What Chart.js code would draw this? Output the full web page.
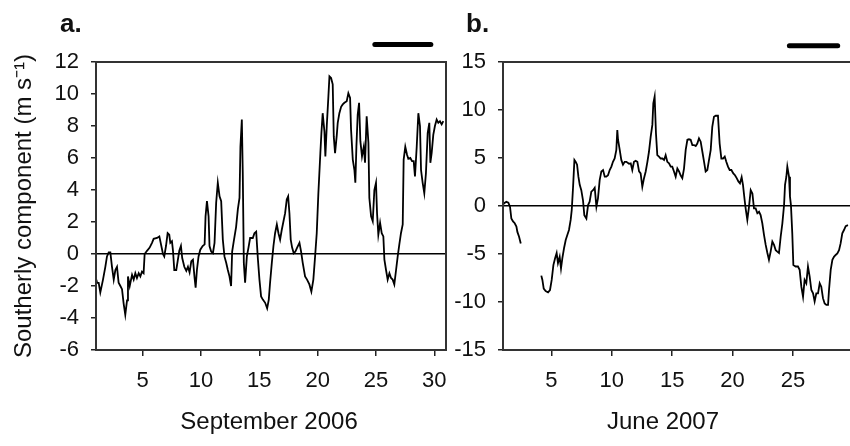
<!DOCTYPE html>
<html>
<head>
<meta charset="utf-8">
<script src="https://cdn.jsdelivr.net/npm/chart.js@4.4.1/dist/chart.umd.min.js"></script>
<style>
  html, body { margin: 0; padding: 0; background: #fff; }
  #wrap { position: relative; width: 850px; height: 446px; overflow: hidden; }
  canvas { position: absolute; top: 0; }
  #panelA { left: 0; }
  #panelB { left: 455px; }
</style>
</head>
<body>
<div id="wrap">
  <canvas id="panelA" width="460" height="446"></canvas>
  <canvas id="panelB" width="480" height="446"></canvas>
</div>
<script>
// a. September 2006 - southerly wind component (m/s)
const sepDays = [1.03, 1.09, 1.23, 1.37, 1.6, 1.8, 1.94, 2.09, 2.23, 2.37, 2.52, 2.66, 2.8, 2.94, 3.09, 3.23, 3.37, 3.51, 3.66, 3.74,
  3.89, 4.09, 4.23, 4.37, 4.51, 4.66, 4.8, 4.94, 5.08, 5.17, 5.37, 5.6, 5.8, 5.94, 6.23, 6.43, 6.6, 6.74, 6.85, 7.0,
  7.14, 7.28, 7.37, 7.51, 7.6, 7.71, 7.88, 8.0, 8.14, 8.28, 8.39, 8.57, 8.74, 8.88, 9.02, 9.17, 9.31, 9.45, 9.54, 9.65,
  9.79, 9.94, 10.14, 10.31, 10.39, 10.51, 10.65, 10.73, 10.87, 11.02, 11.16, 11.3, 11.44, 11.59, 11.73, 11.87, 12.01, 12.16, 12.3, 12.44,
  12.58, 12.67, 12.81, 13.01, 13.16, 13.3, 13.38, 13.5, 13.58, 13.67, 13.78, 13.93, 14.07, 14.21, 14.44, 14.58, 14.73, 14.87, 15.01, 15.15,
  15.3, 15.5, 15.67, 15.81, 15.92, 16.07, 16.21, 16.35, 16.5, 16.64, 16.78, 16.92, 17.07, 17.21, 17.35, 17.47, 17.58, 17.69, 17.81, 17.95,
  18.09, 18.24, 18.44, 18.58, 18.72, 18.92, 19.09, 19.29, 19.46, 19.63, 19.78, 19.92, 20.06, 20.23, 20.32, 20.43, 20.58, 20.66, 20.78, 20.92,
  21.01, 21.15, 21.29, 21.38, 21.49, 21.64, 21.72, 21.86, 22.01, 22.15, 22.29, 22.49, 22.63, 22.78, 22.86, 23.01, 23.15, 23.23, 23.32, 23.43,
  23.55, 23.66, 23.8, 23.95, 24.06, 24.2, 24.35, 24.43, 24.58, 24.72, 24.86, 25.0, 25.09, 25.2, 25.35, 25.49, 25.63, 25.72, 25.86, 26.0,
  26.15, 26.29, 26.43, 26.57, 26.72, 26.86, 27.0, 27.14, 27.29, 27.37, 27.51, 27.66, 27.77, 27.94, 28.09, 28.23, 28.34, 28.49, 28.63, 28.77,
  28.86, 29.0, 29.14, 29.28, 29.43, 29.57, 29.66, 29.77, 29.91, 30.05, 30.2, 30.34, 30.48, 30.63, 30.77];
const sepWind = [-1.6, -1.8, -1.8, -2.4, -1.6, -0.8, -0.15, 0.1, 0.1, -0.8, -1.6, -1.0, -0.8, -1.8, -2.0, -2.2, -3.1, -3.8, -2.9, -1.4,
  -2.0, -1.3, -1.6, -1.2, -1.5, -1.2, -1.4, -1.1, -1.2, 0, 0.2, 0.4, 0.7, 0.95, 1.0, 1.1, 0.5, 0, -0.15, 0.5,
  1.3, 1.2, 0.7, 0.8, 0.2, -1.0, -1.0, -0.45, 0.2, 0.5, -0.25, -0.8, -1.05, -0.8, -1.15, -0.45, -0.35, -1.5, -2.1, -1.0,
  -0.15, 0.27, 0.5, 0.6, 2.35, 3.3, 2.35, 0.5, 0.15, 0.05, 0.7, 3.2, 4.45, 3.6, 3.3, 0.9, -0.15, -0.55, -1.0, -1.4,
  -2.0, 0.15, 0.8, 1.7, 2.8, 3.5, 6.7, 8.4, 5.1, -0.55, -1.8, -0.15, 0.4, 1.0, 1.0, 1.3, 1.4, -0.25, -1.6, -2.65,
  -2.85, -3.05, -3.4, -2.85, -1.8, -0.55, 0.5, 1.3, 1.85, 1.3, 0.9, 1.5, 2.05, 2.55, 3.4, 3.6, 2.55, 0.9, 0.4, 0.05,
  0.15, 0.4, 0.7, 0.15, -0.55, -1.4, -1.6, -1.9, -2.35, -1.6, -0.15, 1.3, 3.8, 6.3, 7.55, 8.8, 7.65, 6.1, 8.0, 9.85,
  11.1, 11.0, 10.6, 7.35, 6.3, 7.45, 8.2, 8.8, 9.2, 9.35, 9.45, 9.55, 10.05, 9.75, 7.8, 5.9, 5.25, 4.45, 6.7, 8.7,
  9.45, 7.05, 6.1, 6.7, 5.7, 8.6, 6.95, 3.5, 2.35, 2.05, 4.0, 4.45, 2.55, 1.2, 1.95, 1.3, 1.1, -0.35, -1.0, -1.6,
  -1.2, -1.5, -1.6, -1.9, -1.0, -0.15, 0.6, 1.3, 1.85, 5.9, 6.7, 6.2, 5.95, 6.0, 5.8, 5.8, 4.85, 6.7, 8.8, 8.0,
  5.25, 4.45, 3.8, 5.05, 7.55, 8.2, 5.7, 6.3, 7.45, 8.0, 8.4, 8.2, 8.3, 8.1, 8.3];

// b. June 2007 (null = missing record)
const junDays = [0.95, 1.09, 1.28, 1.44, 1.58, 1.69, 1.83, 1.97, 2.11, 2.19, 2.33, 2.47, 3.3,
  4.17, 4.26, 4.37, 4.53, 4.73, 4.89, 5.03, 5.17, 5.31, 5.44, 5.55, 5.69, 5.8, 5.91, 6.05, 6.19, 6.33, 6.46, 6.6, 6.69,
  6.8, 6.91, 7.02, 7.13, 7.24, 7.35, 7.48, 7.62, 7.73, 7.9, 8.04, 8.17, 8.31, 8.45, 8.59, 8.73, 8.86, 9.0, 9.14, 9.28,
  9.42, 9.55, 9.69, 9.83, 9.97, 10.1, 10.24, 10.38, 10.46, 10.52, 10.66, 10.79, 10.93, 11.07, 11.21, 11.43, 11.57, 11.7,
  11.84, 11.98, 12.12, 12.26, 12.39, 12.53, 12.67, 12.81, 12.95, 13.08, 13.22, 13.36, 13.44, 13.55, 13.66, 13.77, 13.91,
  14.05, 14.19, 14.33, 14.46, 14.6, 14.74, 14.88, 15.01, 15.15, 15.29, 15.43, 15.57, 15.7, 15.84, 15.98, 16.12, 16.26,
  16.39, 16.53, 16.67, 16.81, 16.95, 17.08, 17.22, 17.36, 17.5, 17.64, 17.77, 17.91, 18.05, 18.19, 18.32, 18.46, 18.6,
  18.79, 18.93, 19.07, 19.21, 19.35, 19.48, 19.62, 19.76, 19.9, 20.06, 20.2, 20.34, 20.48, 20.61, 20.75, 20.86, 21.0,
  21.08, 21.22, 21.36, 21.5, 21.64, 21.77, 21.91, 22.05, 22.19, 22.32, 22.46, 22.6, 22.74, 22.88, 23.01, 23.15, 23.29,
  23.43, 23.57, 23.7, 23.84, 23.98, 24.12, 24.26, 24.34, 24.45, 24.53, 24.67, 24.75, 24.83, 24.94, 25.03, 25.22, 25.41,
  25.55, 25.69, 25.83, 25.96, 26.1, 26.24, 26.38, 26.52, 26.66, 26.79, 26.93, 27.07, 27.21, 27.34, 27.48, 27.62, 27.76,
  27.9, 27.98, 28.12, 28.26, 28.39, 28.53, 28.67, 28.81, 28.94, 29.08, 29.22, 29.36, 29.55];
const junWind = [0.1, 0.28, 0.45, 0.35, -0.07, -1.3, -1.6, -1.8, -2.15, -2.7, -3.2, -3.9, null,
  -7.25, -7.7, -8.6, -8.85, -9.0, -8.75, -7.7, -6.15, -5.45, -4.9, -5.95, -5.3, -6.5, -5.45, -4.4, -3.55, -3.0, -2.5, -1.45, -0.4,
  2.0, 4.8, 4.6, 4.3, 3.05, 2.2, 1.65, 0.6, -0.95, -1.3, 0.1, 0.45, 1.5, 1.65, 1.9, -0.07, 0.8, 2.7, 3.6, 3.75,
  3.05, 3.05, 3.2, 3.75, 4.1, 4.6, 4.95, 5.85, 7.9, 6.9, 5.85, 4.8, 4.3, 4.6, 4.6, 4.4, 4.45, 3.75,
  4.6, 4.7, 4.6, 3.6, 3.4, 2.0, 2.9, 3.6, 4.6, 5.65, 7.2, 8.45, 10.7, 11.4, 7.55, 5.3, 5.15,
  4.95, 4.95, 4.8, 5.3, 4.6, 4.45, 4.1, 4.1, 3.6, 3.05, 3.9, 3.6, 3.2, 2.9, 3.9, 5.85, 6.9,
  6.95, 6.9, 6.35, 6.35, 6.25, 6.5, 7.05, 6.7, 5.65, 4.6, 3.6, 3.75, 4.8, 5.85, 8.25, 9.3, 9.4,
  9.4, 6.5, 4.95, 4.95, 5.15, 4.6, 4.1, 3.75, 3.75, 3.4, 3.2, 2.9, 2.55, 2.35, 3.0, 2.2, 0.6,
  -0.25, -1.45, -0.07, 1.65, 1.3, -0.25, -0.25, -0.75, -0.6, -0.95, -1.8, -3.0, -4.05, -4.9, -5.6, -4.75, -3.7,
  -4.05, -4.6, -4.75, -4.9, -3.2, -1.8, 0.1, 2.2, 3.05, 4.1, 3.05, 0.97, 0.1, -2.85, -6.15, -6.3, -6.3,
  -6.65, -8.4, -9.45, -7.7, -8.05, -6.3, -7.35, -8.75, -9.1, -9.95, -9.1, -9.1, -8.05, -8.4, -9.6, -10.15, -10.3,
  -10.3, -8.75, -6.65, -5.6, -5.3, -5.1, -4.95, -4.6, -3.9, -2.85, -2.5, -2.1, -2.0];

// black bar above each panel (period marker, in days)
const sepPeriod = [24.9, 29.7];
const sepPeriodLevel = 13.1;
const junPeriod = [24.7, 28.7];
const junPeriodLevel = 16.7;

const sepTicks = [5, 10, 15, 20, 25, 30];
const junTicks = [5, 10, 15, 20, 25];

const fontFamily = "'Liberation Sans', Arial, sans-serif";
const inkColor = '#111';

const frameBox = {
  id: 'frameBox',
  afterDatasetsDraw(chart) {
    const { ctx, chartArea: { left, top, right, bottom } } = chart;
    ctx.save();
    ctx.strokeStyle = '#333';
    ctx.lineWidth = 2;
    ctx.strokeRect(left, top, right - left, bottom - top);
    ctx.restore();
  }
};

// panel letter and x axis caption
const panelText = {
  id: 'panelText',
  afterDraw(chart, args, opts) {
    const { ctx } = chart;
    ctx.save();
    ctx.fillStyle = inkColor;
    ctx.textBaseline = 'alphabetic';
    ctx.textAlign = 'left';
    ctx.font = `bold 26px ${fontFamily}`;
    ctx.fillText(opts.letter, opts.letterX, 32);
    ctx.textAlign = 'center';
    ctx.font = `24px ${fontFamily}`;
    ctx.fillText(opts.caption, opts.captionX, 429);
    ctx.restore();
  }
};

const makePanel = (canvasId, p) => {
  const pairs = p.days.map((d, i) => ({ x: d, y: p.values[i] }));
  return new Chart(document.getElementById(canvasId), {
    type: 'line',
    data: {
      datasets: [{
        data: pairs,
        borderColor: '#000',
        borderWidth: 1.8,
        pointRadius: 0,
        tension: 0,
        spanGaps: false,
      }, {
        data: p.period.map(d => ({ x: d, y: p.periodLevel })),
        borderColor: '#000',
        borderWidth: 5,
        borderCapStyle: 'round',
        pointRadius: 0,
        clip: false,
      }]
    },
    options: {
      responsive: false,
      animation: false,
      events: [],
      layout: { padding: { top: 62, right: p.padRight, bottom: 0, left: 0 } },
      plugins: {
        legend: { display: false },
        tooltip: { enabled: false },
        panelText: { letter: p.letter, letterX: p.letterX, caption: p.caption, captionX: p.captionX },
      },
      scales: {
        x: {
          type: 'linear',
          min: p.xMin,
          max: p.xMax,
          afterBuildTicks: (scale) => { scale.ticks = p.xTicks.map(v => ({ value: v })); },
          afterFit: (scale) => { scale.height = 96; scale.paddingLeft = 0; scale.paddingRight = 0; },
          border: { display: false },
          grid: { drawOnChartArea: false, color: '#222', tickLength: 6, lineWidth: 1.5 },
          ticks: { autoSkip: false, maxRotation: 0, padding: 12, color: inkColor, font: { family: fontFamily, size: 22 } },
        },
        y: {
          min: p.yMin,
          max: p.yMax,
          afterFit: (scale) => { scale.width = p.axisWidth; },
          border: { display: false },
          grid: {
            color: (ctx) => (ctx.tick && ctx.tick.value === 0 ? '#000' : 'rgba(0,0,0,0)'),
            tickColor: '#222',
            tickLength: 5,
            lineWidth: 1.5,
          },
          ticks: { stepSize: p.yStep, autoSkip: false, padding: 12, color: inkColor, font: { family: fontFamily, size: 22 } },
          title: {
            display: p.yTitle !== '',
            text: p.yTitle,
            color: inkColor,
            font: { family: fontFamily, size: 24 },
            padding: { top: 10, bottom: 0 },
          },
        },
      },
    },
    plugins: [frameBox, panelText],
  });
};

makePanel('panelA', {
  days: sepDays, values: sepWind,
  period: sepPeriod, periodLevel: sepPeriodLevel,
  xMin: 1, xMax: 31, xTicks: sepTicks, yMin: -6, yMax: 12, yStep: 2,
  axisWidth: 96, padRight: 14,
  letter: 'a.', letterX: 60,
  caption: 'September 2006', captionX: 269,
  yTitle: 'Southerly component (m s\u207B\u00B9)',
});

makePanel('panelB', {
  days: junDays, values: junWind,
  period: junPeriod, periodLevel: junPeriodLevel,
  xMin: 1, xMax: 31, xTicks: junTicks, yMin: -15, yMax: 15, yStep: 5,
  axisWidth: 48, padRight: 69.5,
  letter: 'b.', letterX: 11,
  caption: 'June 2007', captionX: 208,
  yTitle: '',
});
</script>
</body>
</html>
